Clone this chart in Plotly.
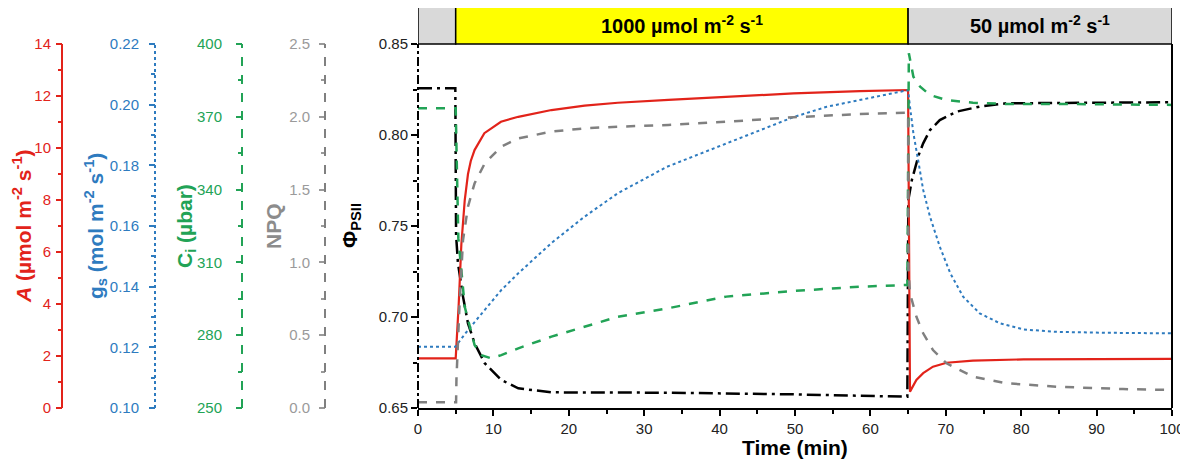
import plotly.graph_objects as go

# ---------------- data ----------------
t_A = [0, 5.0, 5.4, 5.75, 6.2, 6.63, 7.0, 7.5, 8.8, 11.0, 13.3, 17.7, 22.1, 26.5, 33.2,
       40.9, 49.8, 58.6, 65.0, 65.25, 66.1, 67.0, 68.3, 70.1, 73.6, 80.3, 89.0, 100]
A_vals = [1.91, 1.91, 4.0, 6.3, 8.0, 9.0, 9.5, 9.92, 10.57, 11.01, 11.2, 11.46, 11.63, 11.74, 11.85,
          11.97, 12.10, 12.19, 12.23, 0.63, 1.08, 1.34, 1.59, 1.74, 1.82, 1.87, 1.885, 1.89]

t_gs = [0, 4.95, 6.63, 8.85, 11.05, 13.3, 15.5, 17.7, 22.1, 26.5, 33.0, 40.9, 45.4, 49.8,
        54.2, 58.6, 63.0, 65.0, 65.25, 65.7, 66.4, 67.0, 67.9, 69.2, 70.6, 72.3, 74.5, 77.2,
        80.3, 84.7, 91.3, 100]
gs_vals = [0.1202, 0.1202, 0.1257, 0.1323, 0.1389, 0.1444, 0.1494, 0.1544, 0.1631, 0.1708,
           0.1795, 0.1873, 0.1916, 0.1959, 0.1993, 0.2015, 0.2037, 0.2048, 0.1993, 0.1906,
           0.1807, 0.1719, 0.1631, 0.1532, 0.1444, 0.1367, 0.1312, 0.1279, 0.1259, 0.1251,
           0.1248, 0.1246]

t_ci = [0, 5.0, 5.15, 5.35, 6.2, 7.5, 8.4, 9.7, 11.05, 13.3, 17.7, 22.1, 26.5, 33.0, 40.9,
        49.8, 58.6, 64.9, 65.1, 65.7, 66.6, 67.9, 70.1, 73.6, 78.0, 84.7, 100]
ci_vals = [373.5, 373.5, 350, 320, 291.7, 276.0, 271.8, 270.5, 271.8, 274.6, 279.4, 283.5,
           287.6, 291.0, 295.9, 298.2, 300.0, 300.7, 396.2, 386.5, 382.4, 379.0, 376.9,
           375.8, 375.3, 375.3, 374.9]

t_npq = [0, 5.05, 5.1, 5.5, 5.97, 6.63, 7.5, 8.85, 11.05, 13.3, 17.7, 22.1, 26.5, 33.2, 40.9,
         49.8, 58.6, 65.0, 65.05, 65.25, 66.1, 67.0, 68.3, 70.1, 73.6, 78.0, 84.7, 93.5, 100]
npq_vals = [0.04, 0.04, 0.2, 0.7, 1.154, 1.383, 1.543, 1.68, 1.795, 1.852, 1.898, 1.921, 1.932,
            1.944, 1.966, 1.997, 2.019, 2.028, 0.95, 0.788, 0.627, 0.513, 0.398, 0.307,
            0.215, 0.17, 0.146, 0.130, 0.124]

t_phi = [0, 4.95, 5.05, 5.3, 5.97, 6.63, 7.5, 8.85, 11.05, 13.3, 17.7, 33.2, 49.8, 64.9,
         65.03, 65.5, 66.4, 67.0, 67.9, 69.2, 71.4, 74.5, 78.0, 89.1, 100]
phi_vals = [0.8257, 0.8257, 0.745, 0.7295, 0.7112, 0.6965, 0.6856, 0.6746, 0.6654, 0.6608,
            0.6586, 0.6584, 0.6575, 0.6562, 0.7643, 0.7753, 0.789, 0.7954, 0.8027, 0.8082,
            0.8128, 0.8156, 0.8174, 0.8177, 0.818]

x_ticks = [0, 10, 20, 30, 40, 50, 60, 70, 80, 90, 100]
phases = [(0, 5, "#D9D9D9", ""),
          (5, 65, "#FFFF00", "<b>1000 µmol m<sup>-2</sup> s<sup>-1</sup></b>"),
          (65, 100, "#D9D9D9", "<b>50 µmol m<sup>-2</sup> s<sup>-1</sup></b>")]

# ---------------- styling ----------------
OFF = 8                      # page body margin of the html document
W, H = 1188 - OFF, 461 - OFF
RED = "#E2231A"
BLUE = "#2E7BBF"
GREEN = "#22A356"
GRAY = "#808080"
GRAYTXT = "#9A9A9A"
FONT = "Liberation Sans, Arial, sans-serif"
TICK_SIZE = 15
TITLE_SIZE = 21

def px_x(p):
    return (p - OFF) / W

def px_y(p):
    return 1 - (p - OFF) / H

y_top, y_bot = 44, 408
dom_y = [px_y(y_bot), px_y(y_top)]
dom_x = [px_x(418), px_x(1172)]

fig = go.Figure()

fig.add_trace(go.Scatter(x=t_gs, y=gs_vals, yaxis="y3", mode="lines",
                         line=dict(color=BLUE, width=2, dash="dot"), showlegend=False))
fig.add_trace(go.Scatter(x=t_npq, y=npq_vals, yaxis="y5", mode="lines",
                         line=dict(color=GRAY, width=2.5, dash="dash"), showlegend=False))
fig.add_trace(go.Scatter(x=t_ci, y=ci_vals, yaxis="y4", mode="lines",
                         line=dict(color=GREEN, width=2.5, dash="dash"), showlegend=False))
fig.add_trace(go.Scatter(x=t_A, y=A_vals, yaxis="y2", mode="lines",
                         line=dict(color=RED, width=2.2), showlegend=False))
fig.add_trace(go.Scatter(x=t_phi, y=phi_vals, yaxis="y", mode="lines",
                         line=dict(color="black", width=2.5, dash="14px,5px,3px,5px"),
                         showlegend=False))

tickfont = lambda c: dict(family=FONT, size=TICK_SIZE, color=c)

def side_axis(rng, dtick, mdtick, color, pos, fmt, standoff):
    return dict(range=rng, dtick=dtick, tick0=rng[0], overlaying="y", anchor="free",
                position=pos, side="left", showline=False, showgrid=False, zeroline=False,
                automargin=False, ticklabelstandoff=standoff,
                ticks="outside", ticklen=6, tickwidth=2, tickcolor=color,
                tickfont=tickfont(color), tickformat=fmt, domain=dom_y,
                minor=dict(ticks="outside", ticklen=4, tickwidth=2, tickcolor=color,
                           dtick=mdtick, tick0=rng[0]))

fig.update_layout(
    width=W, height=H, margin=dict(l=0, r=0, t=0, b=0, autoexpand=False),
    paper_bgcolor="white", plot_bgcolor="white",
    font=dict(family=FONT),
    xaxis=dict(domain=dom_x, range=[0, 100], tickvals=x_ticks, showgrid=False,
               zeroline=False, showline=True, linecolor="black", linewidth=2,
               automargin=False,
               ticks="outside", ticklen=6, tickwidth=2, tickcolor="black",
               tickfont=tickfont("#222222"), anchor="y",
               minor=dict(ticks="outside", ticklen=4, tickwidth=2, tickcolor="black", dtick=5)),
    yaxis=dict(domain=dom_y, range=[0.65, 0.85], dtick=0.05, tick0=0.65, tickformat=".2f",
               showgrid=False, zeroline=False, showline=False, anchor="x", automargin=False,
               ticks="outside", ticklen=6, tickwidth=2, tickcolor="black",
               tickfont=tickfont("#222222"),
               minor=dict(ticks="outside", ticklen=4, tickwidth=2, tickcolor="black",
                          dtick=0.025, tick0=0.65)),
    yaxis2=side_axis([0, 14], 2, 1, RED, px_x(62), "d", 2),
    yaxis3=side_axis([0.10, 0.22], 0.02, 0.01, BLUE, px_x(155), ".2f", 7),
    yaxis4=side_axis([250, 400], 30, 15, GREEN, px_x(242), "d", 11),
    yaxis5=side_axis([0, 2.5], 0.5, 0.25, GRAYTXT, px_x(325), ".1f", 6),
)

shapes = []
# axis lines with their own dash styles
for xp, col, dash in [(62, RED, "solid"), (155, BLUE, "dot"), (242, GREEN, "dash"),
                      (325, GRAY, "dash"), (418, "black", "dashdot")]:
    shapes.append(dict(type="line", xref="paper", yref="paper", x0=px_x(xp), x1=px_x(xp),
                       y0=dom_y[0], y1=dom_y[1], line=dict(color=col, width=2, dash=dash)))
# right frame
shapes.append(dict(type="line", xref="paper", yref="paper", x0=dom_x[1], x1=dom_x[1],
                   y0=dom_y[0], y1=dom_y[1], line=dict(color="black", width=2)))
# header boxes
annotations = []
for x0, x1, col, label in phases:
    shapes.append(dict(type="rect", xref="x", yref="paper", x0=x0, x1=x1,
                       y0=dom_y[1], y1=px_y(7), fillcolor=col,
                       line=dict(color="black", width=1.5), layer="above"))
    if label:
        annotations.append(dict(x=(x0 + x1) / 2, y=px_y(25), xref="x", yref="paper",
                                xanchor="center", yanchor="middle",
                                text=label, showarrow=False,
                                font=dict(family=FONT, size=20, color="black")))

ymid = (dom_y[0] + dom_y[1]) / 2
for xp, txt, col in [(22, "<b><i>A</i> (µmol m<sup>-2</sup> s<sup>-1</sup>)</b>", RED),
                     (95, "<b>g<sub>s</sub> (mol m<sup>-2</sup> s<sup>-1</sup>)</b>", BLUE),
                     (186, "<b>C<sub>i</sub> (µbar)</b>", GREEN),
                     (273, "<b>NPQ</b>", "#8C8C8C"),
                     (351, "<b>Φ<sub>PSII</sub></b>", "black")]:
    annotations.append(dict(x=px_x(xp), y=ymid, xref="paper", yref="paper", text=txt,
                            xanchor="center", yanchor="middle",
                            textangle=-90, showarrow=False,
                            font=dict(family=FONT, size=TITLE_SIZE, color=col)))

annotations.append(dict(x=50, y=px_y(447), xref="x", yref="paper", text="<b>Time (min)</b>",
                        xanchor="center", yanchor="middle",
                        showarrow=False, font=dict(family=FONT, size=TITLE_SIZE, color="black")))

fig.update_layout(shapes=shapes, annotations=annotations)
fig.write_html("out.html")
